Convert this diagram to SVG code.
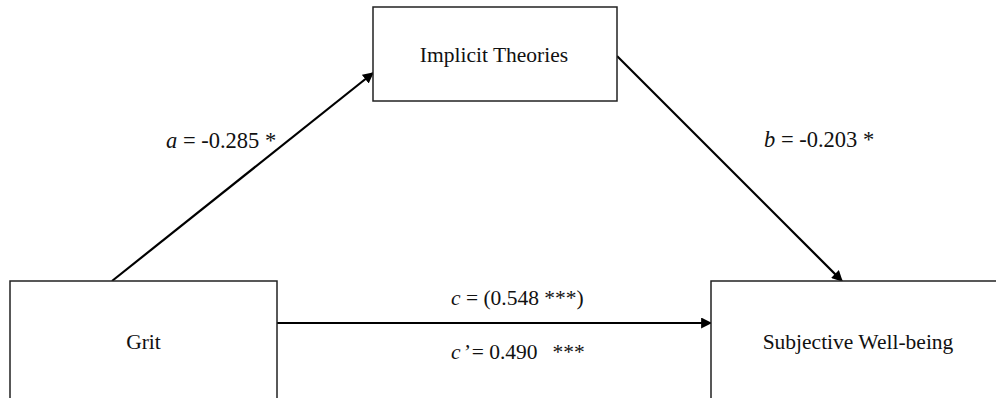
<svg xmlns="http://www.w3.org/2000/svg" width="996" height="398" viewBox="0 0 996 398">
<style>
.box{fill:#fff;stroke:#222;stroke-width:1.5}
.t{font-family:'Liberation Serif',serif;font-size:21.5px;fill:#111}
.lbl{font-family:'Liberation Serif',serif;font-size:22.5px;fill:#111}
.c{stroke:#000;stroke-width:2.2;fill:none;marker-end:url(#ah)}
</style>
<defs>
<marker id="ah" viewBox="0 0 10 10" refX="9" refY="5" markerWidth="5" markerHeight="5" orient="auto" markerUnits="strokeWidth">
<path d="M0,0 L10,5 L0,10 z" fill="#000"/>
</marker>
</defs>
<rect width="996" height="398" fill="#fff"/>
<g id="connectors">
<line class="c" x1="112" y1="281" x2="373" y2="73"/>
<line class="c" x1="617" y1="56" x2="842" y2="281"/>
<line class="c" x1="277" y1="323" x2="711" y2="323"/>
</g>
<g id="implicit-theories">
<rect class="box" x="373" y="7" width="244" height="94"/>
<text class="t" x="494" y="62" text-anchor="middle">Implicit Theories</text>
</g>
<g id="grit">
<rect class="box" x="10" y="281" width="267" height="130"/>
<text class="t" x="143.5" y="349" text-anchor="middle">Grit</text>
</g>
<g id="swb">
<rect class="box" x="711" y="281" width="300" height="130"/>
<text class="t" x="858" y="349" text-anchor="middle">Subjective Well-being</text>
</g>
<g id="labels">
<text class="lbl" x="166" y="148"><tspan font-style="italic">a</tspan> = -0.285 *</text>
<text class="lbl" x="764" y="147"><tspan font-style="italic">b</tspan> = -0.203 *</text>
<text class="t" x="451" y="305"><tspan font-style="italic">c</tspan> = (0.548 ***)</text>
<text class="t" x="451" y="359"><tspan font-style="italic">c</tspan><tspan font-style="italic" dx="2">’</tspan><tspan dx="2">= 0.490</tspan><tspan dx="15">***</tspan></text>
</g>
</svg>
